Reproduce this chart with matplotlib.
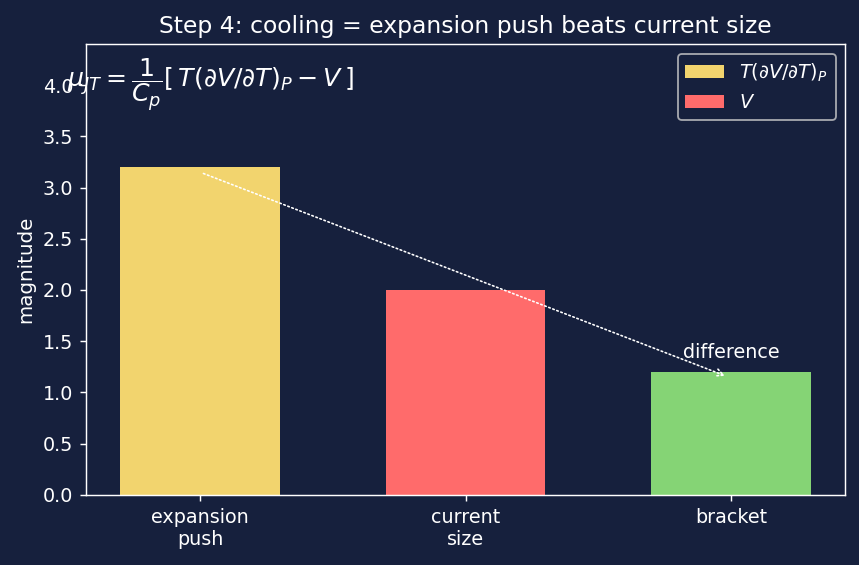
import matplotlib
matplotlib.use('Agg')
import matplotlib.pyplot as plt

categories = ['expansion\npush', 'current\nsize', 'bracket']
values = [3.2, 2.0, 1.2]
colors = ['#f2d46e', '#ff6b6b', '#85d475']
legend_labels = [r'$T(\partial V/\partial T)_P$', r'$V$', None]

BG = '#16203d'
FG = 'white'

fig, ax = plt.subplots(figsize=(859 / 130, 565 / 130), dpi=130)
fig.patch.set_facecolor(BG)
ax.set_facecolor(BG)

x = range(len(categories))
for i in x:
    ax.bar(i, values[i], width=0.6, color=colors[i], label=legend_labels[i])

ax.set_xticks(list(x))
ax.set_xticklabels(categories)
ax.set_ylim(0, 4.4)

# arrow from the push to the bracket
ax.annotate('', xy=(1.99, 1.15), xytext=(0, 3.15),
            arrowprops=dict(arrowstyle='->', color=FG, linestyle=':', lw=0.9))
ax.text(2, 1.3, 'difference', color=FG, ha='center', va='bottom', fontsize=10.6)

ax.text(-0.5, 4.0, r'$\mu_{JT} = \dfrac{1}{C_p}[\,T(\partial V/\partial T)_P - V\,]$',
        color=FG, fontsize=14, va='center', ha='left')

ax.set_title('Step 4: cooling = expansion push beats current size', color=FG, fontsize=13)
ax.set_ylabel('magnitude', color=FG, fontsize=11)
ax.tick_params(colors=FG, labelsize=10.6)
for s in ax.spines.values():
    s.set_color(FG)

leg = ax.legend(loc='upper right', facecolor=BG, edgecolor='#cccccc', fontsize=10.7)
for t in leg.get_texts():
    t.set_color(FG)

fig.subplots_adjust(left=0.1, right=0.984, top=0.922, bottom=0.124)
fig.savefig('out.png', dpi=130, facecolor=BG)
